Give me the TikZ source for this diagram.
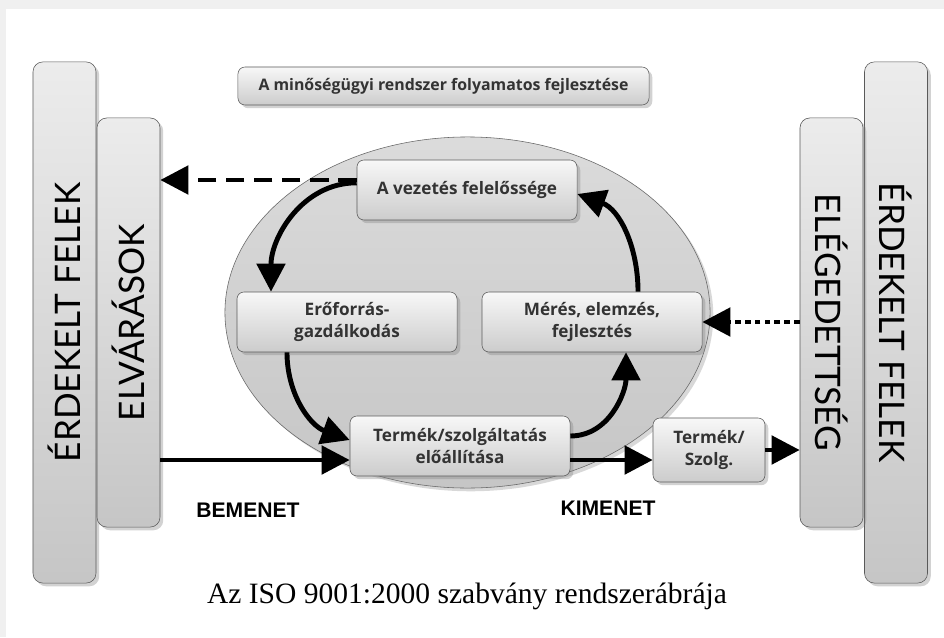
\documentclass[tikz,border=0pt]{standalone}
\usepackage{fontspec}
\setmainfont{Liberation Serif}
\newfontfamily\boxfont{Open Sans}
\newfontfamily\barfont{Lato}
\newfontfamily\tagfont{Liberation Sans}
\usetikzlibrary{positioning,shapes.geometric,arrows.meta,shadows}
\tikzset{
  basic/.style   = {draw=black!65, rounded corners=5pt, drop shadow={opacity=0.35}, align=center},
  procbox/.style = {basic, top color=gray!6, bottom color=gray!40, text=black!80, minimum width=5.5cm, minimum height=1.5cm, font=\boxfont\bfseries\fontsize{12.2}{15.5}\selectfont},
  barbox/.style  = {basic, rounded corners=7pt, top color=gray!15, bottom color=gray!45, minimum height=1.575cm, inner sep=0pt, font=\barfont\fontsize{25}{25}\selectfont},
  flow/.style    = {line width=3.5pt, -{Triangle[length=20pt,width=20pt]}},
  tag/.style     = {font=\tagfont\bfseries\fontsize{15}{15}\selectfont}
}
\begin{document}
\begin{tikzpicture}[x=0.025cm, y=-0.025cm]
    \fill[gray!12] (0,0) rectangle (944,637);
    \fill[white] (6,9) rectangle (944,637);
    \useasboundingbox (0,0) rectangle (944,637);

    \node [barbox, rotate=90, minimum width=13.025cm] (outerL) at (64.5,322.5) {ÉRDEKELT FELEK};
    \node [barbox, rotate=90, minimum width=10.225cm] (elv) at (128.5,322.5) {ELVÁRÁSOK};
    \node [barbox, rotate=-90, minimum width=13.025cm] (outerR) at (896,322.5) {ÉRDEKELT FELEK};
    \node [barbox, rotate=-90, minimum width=10.225cm] (ele) at (831.5,322.5) {ELÉGEDETTSÉG};

    \node [procbox, minimum width=10.275cm, minimum height=0.95cm, font=\boxfont\bfseries\fontsize{11.3}{14}\selectfont] (title) at (443.5,86) {A minőségügyi rendszer folyamatos fejlesztése};

    \node [ellipse, draw=black!60, top color=gray!28, bottom color=gray!45, drop shadow={opacity=0.3}, minimum width=12.125cm, minimum height=8.775cm] (cycle) at (467.5,312.5) {};

    \node [procbox] (vez) at (467,190) {A vezetés felelőssége};
    \node [procbox] (ero) at (347,322) {Erőforrás-\\gazdálkodás};
    \node [procbox] (mer) at (592,322) {Mérés, elemzés,\\fejlesztés};
    \node [procbox] (term) at (460,446) {Termék/szolgáltatás\\előállítása};
    \node [procbox, minimum width=2.8cm, minimum height=1.6cm] (szolg) at (709,450) {Termék/\\Szolg.};

    \coordinate (vezL) at ([yshift=0.25cm]vez.west);
    \coordinate (inR) at ([yshift=-0.35cm]term.west);
    \coordinate (outL) at ([yshift=-0.35cm]term.east);

    \draw [flow, dash pattern=on 13pt off 7pt] (vezL) -- (elv.south |- vezL);
    \draw [flow, dash pattern=on 4pt off 3pt] (ele.south |- mer.east) -- (mer.east);
    \draw [flow] (elv.south |- inR) -- (inR);
    \draw [flow] (outL) -- (szolg.west |- outL);
    \draw [flow] (szolg.east) -- (ele.south |- szolg.east);

    \draw [flow] ([yshift=0.18cm]vez.west) to [out=180, in=90] ([xshift=-1.9cm]ero.north);
    \draw [flow] ([xshift=-1.5cm]ero.south) to [out=-90, in=160] ([yshift=0.15cm]term.west);
    \draw [flow] ([yshift=0.25cm]term.east) to [out=0, in=-90] ([xshift=0.85cm]mer.south);
    \draw [flow] ([xshift=1.15cm]mer.north) to [out=90, in=-20] ([yshift=-0.1cm]vez.east);

    \node [tag] (bem) at (248,510) {BEMENET};
    \node [tag] (kim) at (608,508) {KIMENET};
    \node [font=\fontsize{21}{21}\selectfont] (cap) at (467,596) {Az ISO 9001:2000 szabvány rendszerábrája};
\end{tikzpicture}
\end{document}
